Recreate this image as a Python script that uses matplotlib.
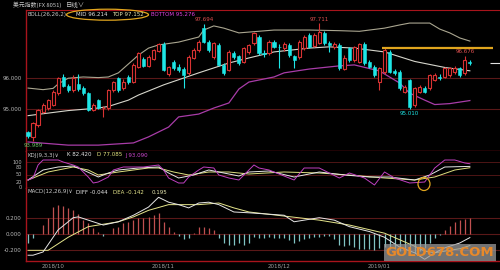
import matplotlib
matplotlib.use('Agg')
import matplotlib.pyplot as plt
from matplotlib.patches import Ellipse
import numpy as np

# daily candles, one per trading day (index 0 = late Sep 2018)
opens = [94.29, 94.14, 94.50, 94.93, 95.03, 95.14, 95.50, 96.03, 95.73, 95.61,
         95.80, 95.68, 95.50, 94.98, 95.29, 95.03, 95.03, 95.61, 95.98, 95.66,
         96.03, 95.87, 96.34, 96.58, 96.37, 96.58, 96.85, 97.05, 96.10, 96.48,
         96.35, 96.26, 96.13, 96.62, 96.87, 97.55, 97.13, 96.66, 97.03, 96.40,
         96.25, 96.79, 96.68, 96.50, 96.80, 97.08, 97.29, 96.79, 96.77, 97.13,
         96.98, 96.93, 97.03, 96.68, 96.66, 96.92, 97.34, 97.00, 97.10, 97.40,
         97.10, 96.98, 97.03, 96.28, 96.92, 96.56, 96.50, 97.05, 96.50, 96.34,
         95.87, 96.18, 96.82, 96.20, 96.18, 95.56, 95.92, 95.14, 95.56, 95.66,
         95.66, 95.92, 96.03, 96.03, 96.08, 96.18, 96.29, 96.13, 96.50]
highs = [94.33, 94.60, 95.02, 95.20, 95.33, 95.60, 96.02, 96.12, 95.80, 96.08,
         96.10, 95.75, 95.55, 95.20, 95.33, 95.12, 95.64, 95.90, 96.02, 95.95,
         96.08, 96.45, 96.80, 96.64, 96.70, 96.90, 97.10, 97.12, 96.38, 96.55,
         96.42, 96.32, 96.70, 96.92, 97.18, 97.694, 97.20, 97.12, 97.08, 96.45,
         96.86, 96.85, 96.72, 96.96, 97.06, 97.45, 97.35, 96.86, 97.18, 97.20,
         97.05, 97.12, 97.08, 96.72, 97.18, 97.35, 97.40, 97.42, 97.711, 97.48,
         97.15, 97.12, 97.08, 96.70, 96.97, 97.00, 97.10, 97.12, 96.56, 96.40,
         96.34, 96.92, 96.88, 96.26, 96.24, 95.78, 95.96, 95.70, 95.76, 95.72,
         96.12, 96.14, 96.10, 96.34, 96.34, 96.36, 96.34, 96.676, 96.55]
lows = [94.10, 93.989, 94.45, 94.88, 94.98, 95.10, 95.45, 95.70, 95.55, 95.56,
        95.58, 95.45, 94.96, 94.94, 95.00, 94.77, 94.98, 95.55, 95.55, 95.60,
        95.80, 95.82, 96.30, 96.33, 96.32, 96.54, 96.80, 96.20, 96.05, 96.25,
        96.18, 95.66, 96.08, 96.58, 96.82, 97.08, 96.82, 96.60, 96.36, 96.08,
        96.20, 96.60, 96.40, 96.46, 96.74, 97.02, 96.72, 96.66, 96.72, 96.92,
        96.29, 96.85, 96.66, 96.29, 96.60, 96.88, 96.92, 96.95, 97.05, 97.02,
        96.80, 96.90, 96.25, 96.24, 96.50, 96.50, 96.45, 96.40, 96.30, 96.02,
        95.61, 96.12, 96.14, 96.08, 95.62, 95.50, 95.010, 95.08, 95.50, 95.50,
        95.60, 95.88, 95.94, 95.98, 96.02, 96.12, 96.02, 96.08, 96.40]
closes = [94.16, 94.56, 94.98, 95.14, 95.29, 95.56, 95.98, 95.73, 95.61, 95.98,
          95.64, 95.50, 94.98, 95.14, 95.03, 95.05, 95.61, 95.87, 95.61, 95.87,
          95.87, 96.40, 96.77, 96.37, 96.66, 96.87, 97.05, 96.24, 96.34, 96.30,
          96.25, 96.08, 96.66, 96.87, 97.13, 97.13, 96.87, 97.08, 96.40, 96.13,
          96.80, 96.66, 96.45, 96.92, 97.03, 97.40, 96.77, 96.73, 97.13, 96.97,
          96.96, 97.06, 96.71, 96.56, 97.13, 97.29, 96.97, 97.35, 97.45, 97.10,
          97.03, 97.05, 96.30, 96.62, 96.56, 96.95, 97.05, 96.45, 96.34, 96.08,
          96.29, 96.87, 96.18, 96.13, 95.66, 95.71, 95.08, 95.66, 95.71, 95.56,
          96.08, 96.08, 95.98, 96.29, 96.29, 96.30, 96.08, 96.56, 96.47]

# Bollinger bands (26,26,2), read at turning points
top_idx = [0, 3, 5, 6, 8, 11, 14, 16, 18, 20, 22, 24, 26, 30, 34, 35, 37, 39, 42,
           49, 56, 62, 66, 71, 74, 76, 80, 82, 84, 86, 88]
top_val = [95.67, 95.62, 95.66, 95.80, 95.98, 96.02, 96.00, 96.02, 96.15, 96.43,
           96.71, 96.93, 97.03, 97.12, 97.28, 97.50, 97.63, 97.56, 97.41, 97.50,
           97.50, 97.48, 97.46, 97.56, 97.66, 97.72, 97.72, 97.53, 97.41, 97.25, 97.152]
mid_idx = [0, 4, 8, 14, 16, 20, 22, 27, 34, 40, 44, 49, 56, 60, 65, 71, 77, 83, 88]
mid_val = [94.80, 94.88, 94.96, 95.04, 95.09, 95.29, 95.45, 95.77, 96.15, 96.46,
           96.62, 96.81, 96.93, 96.97, 96.93, 96.81, 96.51, 96.32, 96.214]
bot_idx = [0, 8, 14, 21, 24, 28, 30, 34, 37, 40, 42, 44, 49, 51, 56, 62, 65, 70,
           74, 76, 79, 81, 84, 88]
bot_val = [93.97, 93.87, 93.87, 93.94, 94.13, 94.44, 94.76, 94.85, 95.04, 95.20,
           95.64, 95.86, 96.02, 96.15, 96.27, 96.37, 96.40, 96.21, 95.83, 95.51,
           95.29, 95.15, 95.18, 95.276]

# KDJ (9,3,3)
k_idx = [0, 3, 6, 9, 11, 14, 16, 18, 22, 26, 28, 30, 33, 36, 38, 41, 42, 44, 48,
         53, 58, 63, 68, 72, 77, 80, 83, 88]
k_val = [28, 68, 80, 84, 68, 40, 56, 68, 76, 80, 56, 36, 48, 68, 60, 48, 44, 60,
         64, 40, 60, 48, 40, 40, 28, 48, 80, 82.42]
d_idx = [0, 4, 9, 12, 14, 18, 24, 26, 29, 32, 36, 40, 44, 51, 58, 64, 71, 77, 81, 85, 88]
d_val = [28, 60, 80, 68, 48, 60, 76, 76, 60, 48, 60, 60, 52, 60, 56, 48, 36, 28,
         40, 68, 77.085]
j_idx = [0, 1, 2, 3, 6, 7, 9, 10, 12, 13, 14, 16, 17, 19, 21, 23, 26, 27, 28, 30,
         31, 32, 34, 35, 37, 38, 40, 42, 44, 45, 46, 48, 53, 55, 58, 62, 64, 67,
         69, 71, 73, 76, 79, 81, 83, 85, 87, 88]
j_val = [28, 36, 88, 108, 108, 100, 88, 80, 40, 16, 20, 40, 68, 80, 80, 80, 88,
         68, 36, 16, 16, 40, 68, 80, 76, 48, 36, 28, 68, 88, 76, 68, 28, 76, 76,
         36, 56, 36, 8, 60, 36, 16, 20, 76, 108, 108, 96, 93.09]

# MACD (12,26,9)
diff_idx = [0, 1, 3, 6, 9, 10, 13, 15, 18, 21, 24, 26, 28, 30, 32, 34, 36, 38, 41,
            44, 51, 53, 58, 61, 64, 68, 71, 74, 77, 79, 81, 83, 86, 88]
diff_val = [-0.26, -0.26, -0.22, 0.05, 0.20, 0.21, 0.15, 0.11, 0.15, 0.23, 0.33,
            0.45, 0.39, 0.36, 0.32, 0.38, 0.39, 0.36, 0.27, 0.26, 0.23, 0.15, 0.20,
            0.17, 0.09, 0.03, -0.04, -0.16, -0.23, -0.31, -0.23, -0.17, -0.11, -0.044]
dea_idx = [0, 4, 8, 12, 14, 18, 21, 24, 28, 31, 34, 38, 41, 44, 51, 58, 64, 71, 74,
           77, 79, 81, 83, 86, 88]
dea_val = [-0.20, -0.20, -0.04, 0.09, 0.11, 0.15, 0.21, 0.29, 0.36, 0.36, 0.36,
           0.38, 0.32, 0.27, 0.22, 0.17, 0.11, 0.01, -0.07, -0.15, -0.21, -0.23,
           -0.21, -0.18, -0.142]
macd_hist = [-0.11, -0.05, 0.00, 0.11, 0.20, 0.33, 0.35, 0.34, 0.32, 0.29,
             0.25, 0.17, 0.13, 0.07, 0.02, -0.03, 0.00, 0.07, 0.08, 0.13,
             0.15, 0.17, 0.20, 0.20, 0.21, 0.23, 0.26, 0.15, 0.09, 0.03,
             -0.03, -0.06, -0.05, 0.01, 0.09, 0.09, 0.07, 0.05, -0.05, -0.11,
             -0.13, -0.13, -0.11, -0.13, -0.11, -0.04, -0.05, -0.05, -0.04, -0.05,
             -0.05, -0.05, -0.07, -0.11, -0.08, -0.06, -0.05, -0.04, -0.04, -0.03,
             -0.02, -0.06, -0.13, -0.15, -0.14, -0.16, -0.19, -0.18, -0.18, -0.20,
             -0.17, -0.16, -0.18, -0.19, -0.21, -0.22, -0.24, -0.23, -0.21, -0.17,
             -0.11, -0.05, -0.01, 0.05, 0.10, 0.15, 0.17, 0.19, 0.195]

month_idx = [5, 27, 50, 70]
month_lbl = ['2018/10', '2018/11', '2018/12', '2019/01']
resist = 96.93   # yellow line drawn by hand on the original

RED = '#a8141c'
GRID = '#5a1818'
UP = '#d83232'
DOWN = '#1ee6e6'
GOLD = '#e0a51e'
TXT = '#b8b8b8'

W, H = 500, 270
fig = plt.figure(figsize=(W / 100, H / 100), dpi=100, facecolor='black')


def panel(top, bottom, ylim):
    ax = fig.add_axes([26 / W, 1 - bottom / H, (W - 26) / W, (bottom - top) / H])
    ax.set_facecolor('black')
    ax.set_xlim(-0.4, 94.0)
    ax.set_ylim(*ylim)
    for s in ax.spines.values():
        s.set_visible(False)
    for s in ('left', 'bottom'):
        ax.spines[s].set_visible(True)
        ax.spines[s].set_color(RED)
        ax.spines[s].set_linewidth(1)
    ax.tick_params(length=0, labelsize=4, colors=TXT, pad=3)
    ax.set_xticks([])
    return ax


def ftext(x, y, s, color, **kw):
    fig.text(x / W, 1 - y / H, s, color=color, fontsize=kw.pop('size', 4),
             va='center', ha=kw.pop('ha', 'left'), **kw)


# ---- main price panel
ax = panel(10, 151, (93.685, 98.132))
ax.spines['top'].set_visible(True)
ax.spines['top'].set_color(RED)
for lv in (95, 96):
    ax.axhline(lv, color=GRID, lw=0.8, zorder=0)
ax.set_yticks([95, 96])
ax.set_yticklabels(['%.3f' % v for v in (95, 96)])

o = np.array(opens); c = np.array(closes)
h = np.array(highs); l = np.array(lows)
idx = np.arange(len(o))
up = c >= o
cols = np.where(up, UP, DOWN)
ax.vlines(idx, l, h, colors=cols, lw=0.8, zorder=2)
body_lo = np.minimum(o, c)
body_h = np.maximum(np.abs(c - o), 0.012)
ax.bar(idx[up], body_h[up], bottom=body_lo[up], width=0.62,
       facecolor='black', edgecolor=UP, lw=0.8, zorder=3)
ax.bar(idx[~up], body_h[~up], bottom=body_lo[~up], width=0.62,
       facecolor=DOWN, edgecolor=DOWN, lw=0.4, zorder=3)

ax.plot(top_idx, top_val, color='#aaa690', lw=0.8, zorder=1)
ax.plot(mid_idx, mid_val, color='#d6d6cc', lw=0.8, zorder=1)
ax.plot(bot_idx, bot_val, color='#a83ca8', lw=0.9, zorder=1)

ax.hlines(resist, 70.5, 92.6, color=GOLD, lw=1.6, zorder=4)
ax.hlines(c[-1], 92.0, 94.0, color='#e0e0e0', lw=0.8)

for i in (35, 58, 87):
    ax.annotate('%.3f' % h[i], (i, h[i]), xytext=(0, 1.2),
                textcoords='offset points', ha='center', va='bottom',
                fontsize=4, color='#e05050')
ax.annotate('%.3f' % l[76], (76, l[76]), xytext=(0, -1.5), textcoords='offset points',
            ha='center', va='top', fontsize=4, color=DOWN)
ax.annotate('%.3f' % l[1], (1, l[1]), xytext=(0, -1.5), textcoords='offset points',
            ha='center', va='top', fontsize=4, color='#66c266')

# ---- KDJ panel
kx = panel(151, 188, (-4, 144))
for lv in (50, 100):
    kx.axhline(lv, color=GRID, lw=0.6, zorder=0)
kx.set_yticks([0, 20, 50, 80, 100])
kx.tick_params(labelsize=3.6)
kx.plot(d_idx, d_val, color='#e0e080', lw=0.7)
kx.plot(k_idx, k_val, color='#e6e6e6', lw=0.7)
kx.plot(j_idx, j_val, color='#c040c0', lw=0.7)

# ---- MACD panel
mx = panel(188, 261, (-0.331, 0.564))
for lv in (-0.2, 0, 0.2):
    mx.axhline(lv, color=GRID, lw=0.8, zorder=0)
mx.set_yticks([-0.2, 0, 0.2])
mx.set_yticklabels(['%.3f' % v for v in (-0.2, 0, 0.2)])
hist = np.array(macd_hist)
mx.vlines(idx, 0, hist, colors=np.where(hist >= 0, '#c05050', '#80c4c4'), lw=0.9)
mx.plot(dea_idx, dea_val, color='#e6e68c', lw=0.7)
mx.plot(diff_idx, diff_val, color='#e6e6e6', lw=0.7)
mx.set_xticks(month_idx)
mx.set_xticklabels(month_lbl)
mx.tick_params(axis='x', pad=2, labelsize=4, colors='#a0a0a0')

# ---- header texts
cjk = ['Noto Sans CJK SC', 'DejaVu Sans']
ftext(13, 4.5, '美元指数(FX 8051)', '#c8c8c8', family=cjk, size=4.2)
ftext(66, 4.5, '日线∨', '#c8c8c8', family=cjk, size=4.6)
ftext(28, 14.5, 'BOLL(26,26,2)', '#c8c8c8')
ftext(76, 14.5, 'MID 96.214', '#e6e6e6')
ftext(112, 14.5, 'TOP 97.152', '#e6e6b0')
ftext(151, 14.5, 'BOTTOM 95.276', '#e040e0')
ftext(28, 155, 'KDJ(9,3,3)∨', '#c8c8c8')
ftext(67, 155, 'K 82.420', '#e6e6e6')
ftext(97, 155, 'D 77.085', '#e6e680')
ftext(125, 155, 'J 93.090', '#d048d0')
ftext(28, 192, 'MACD(12,26,9)∨', '#c8c8c8')
ftext(76, 192, 'DIFF -0.044', '#e6e6e6')
ftext(113, 192, 'DEA -0.142', '#e6e68c')
ftext(152, 192, '0.195', '#e6e6b0')

# hand-drawn marks on the screenshot
fig.add_artist(Ellipse((107.5 / W, 1 - 14.7 / H), 82 / W, 11 / H,
                       transform=fig.transFigure, fill=False, ec=GOLD, lw=0.9))
fig.add_artist(Ellipse((424 / W, 1 - 184 / H), 12 / W, 13 / H,
                       transform=fig.transFigure, fill=False, ec=GOLD, lw=0.9))

# watermark
ftext(440, 252.5, 'GOLD678.COM', '#e8892a', size=9.5, ha='center', weight='bold',
      bbox=dict(boxstyle='square,pad=0.15', fc='#9a9a9a', ec='none', alpha=0.75))

fig.savefig('out.png', dpi=100, facecolor='black')
